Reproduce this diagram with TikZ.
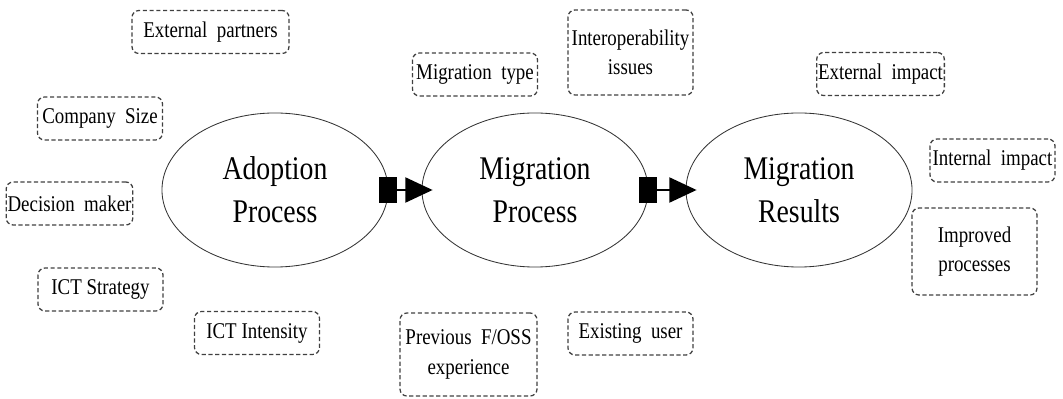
\documentclass[tikz,border=0pt]{standalone}
\usepackage{fontspec}
\setmainfont[FakeStretch=0.84]{Liberation Serif}
\usepackage{tikz}
\usetikzlibrary{shapes,arrows.meta,positioning,calc}

\tikzset{
    process/.style={ellipse, draw=black!80, line width=0.6pt, inner sep=0pt,
        minimum width=5.65cm, minimum height=3.85cm, align=center,
        font=\fontsize{23.5}{30.5}\selectfont},
    factor/.style={draw=black!75, line width=0.9pt, dash pattern=on 3pt off 1.8pt,
        rounded corners=5pt, minimum width=3.125cm, minimum height=1.075cm,
        inner xsep=1pt, inner ysep=2pt, align=center,
        font=\fontsize{16}{21}\selectfont},
    link/.style={line width=1pt,
        {Square[length=0.45cm, width=0.65cm]}-{Triangle[length=0.68cm, width=0.63cm]}}
}

\begin{document}
\begin{tikzpicture}[x=0.025cm, y=-0.025cm]
    \useasboundingbox (0,0) rectangle (1063,399);

    % Processes
    \node[process] (adoption) at (275,190) {Adoption\\Process};
    \node[process] (migration) at (535,190) {Migration\\Process};
    \node[process] (results) at (799,190) {Migration\\Results};

    % Links
    \draw[link] ([xshift=-0.225cm]adoption.east) -- ([xshift=0.275cm]migration.west);
    \draw[link] ([xshift=-0.225cm]migration.east) -- ([xshift=0.275cm]results.west);

    % Adoption factors
    \node[factor, minimum width=3.925cm] (partners) at (210.5,32) {External\ \ partners};
    \node[factor] (size) at (100,118.5) {Company\ \ Size};
    \node[factor] (decision) at (69.5,203.5) {Decision\ \ maker};
    \node[factor] (strategy) at (100.5,289.5) {ICT Strategy};
    \node[factor] (intensity) at (257,333) {ICT Intensity};

    % Migration factors
    \node[factor] (migtype) at (475,74.5) {Migration\ \ type};
    \node[factor, minimum height=2.125cm] (interop) at (630.5,52.5) {Interoperability\\issues};
    \node[factor, minimum width=3.425cm, minimum height=2.075cm] (previous) at (468.5,354.5) {Previous\ \ F/OSS\\experience};
    \node[factor] (existing) at (630.5,333.5) {Existing\ \ user};

    % Results
    \node[factor] (extimpact) at (880.5,74) {External\ \ impact};
    \node[factor] (intimpact) at (992.5,160.5) {Internal\ \ impact};
    \node[factor, minimum height=2.175cm] (improved) at (974.5,251.5) {Improved\\processes};
\end{tikzpicture}
\end{document}
